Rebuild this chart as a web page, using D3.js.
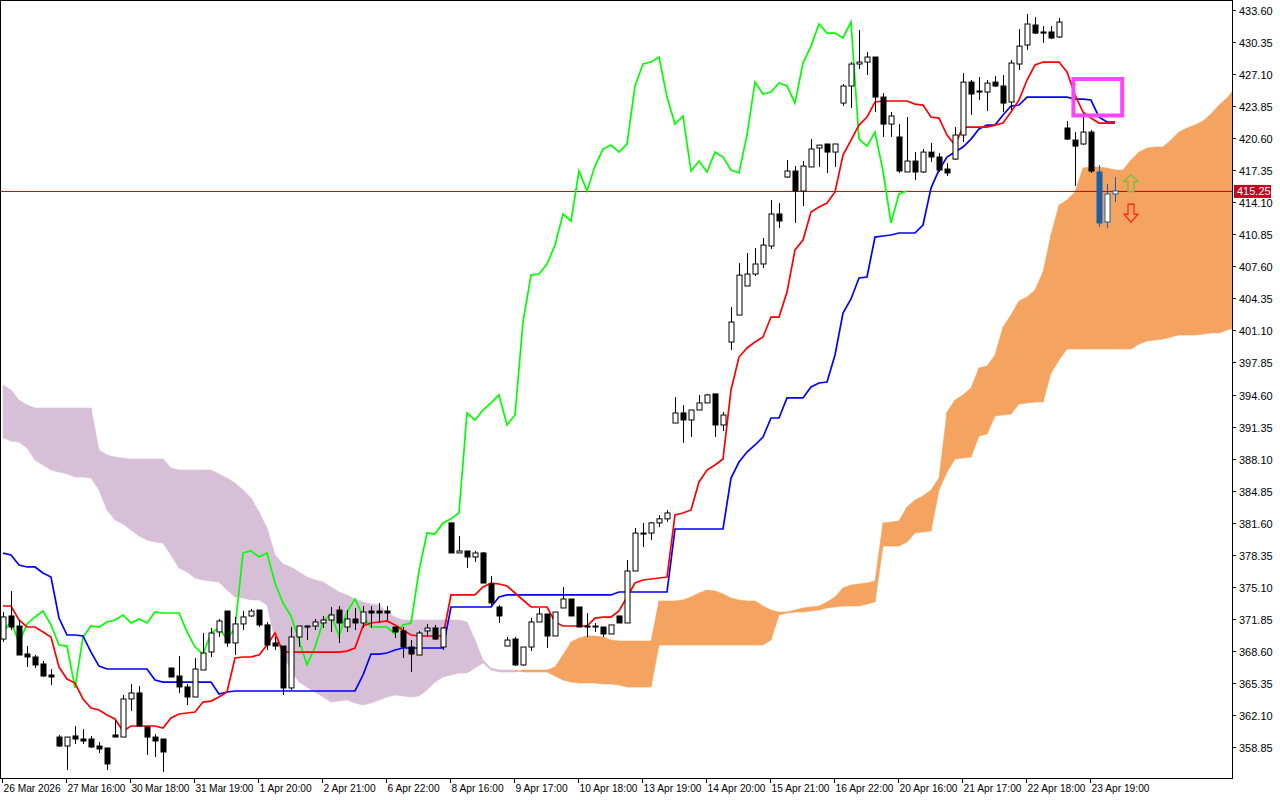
<!DOCTYPE html>
<html>
<head>
<meta charset="utf-8">
<script src="https://cdnjs.cloudflare.com/ajax/libs/d3/7.8.5/d3.min.js"></script>
<style>
body { margin: 0; background: #fff; }
text { font-family: 'Liberation Sans', Arial, sans-serif; font-size: 11px; }
.time text { font-size: 10.2px; }
</style>
</head>
<body>
<svg id="chart"></svg>
<script>
let opens = [369.80,372.14,371.12,368.28,367.98,367.27,366.15,359.86,358.95,359.97,359.66,359.66,358.95,358.75,360.07,359.86,363.72,364.33,360.88,359.86,359.66,366.86,366.05,364.94,363.92,366.66,368.49,370.52,372.64,369.40,371.33,372.14,372.74,371.23,369.40,369.09,364.84,370.01,371.12,371.12,371.43,371.73,372.74,371.02,371.83,371.43,372.64,372.64,372.64,371.02,370.62,368.99,368.18,370.62,370.92,368.99,381.58,378.53,378.73,378.12,378.53,375.38,373.05,369.09,369.80,367.17,368.99,371.53,372.34,370.11,372.95,373.86,373.05,371.12,371.12,371.02,370.31,372.14,371.43,376.70,380.55,380.55,381.58,381.99,391.71,392.73,392.02,393.03,393.75,394.66,391.51,399.92,402.66,405.61,406.82,407.84,409.66,412.91,416.66,417.27,415.24,417.68,419.60,420.01,419.19,424.16,425.89,428.12,428.32,428.83,424.77,422.03,420.72,417.17,418.28,417.17,419.19,418.69,417.47,418.48,420.92,426.29,425.38,425.28,426.29,425.89,424.27,428.12,430.05,432.08,431.37,431.37,430.86,421.63,420.41,420.01,421.22,417.17,412.10,414.94]
let highs = [372.55,374.67,371.73,369.09,368.18,367.57,366.76,360.07,359.86,360.98,360.67,359.97,359.36,358.75,361.59,364.12,365.24,365.04,360.88,360.17,359.66,366.86,368.08,365.24,367.88,370.41,370.92,371.83,372.64,372.04,372.64,372.85,372.74,371.53,370.01,369.09,371.02,371.12,371.23,371.83,372.14,373.05,373.15,372.74,372.95,373.15,373.15,373.46,373.15,371.02,371.02,369.70,370.62,371.33,371.23,371.02,381.58,380.25,378.73,378.73,378.63,376.20,373.25,370.01,370.01,368.99,371.94,372.95,372.34,372.54,375.08,373.86,373.05,372.44,371.43,371.02,371.23,372.14,377.81,381.06,381.58,381.68,382.38,382.89,394.35,393.54,393.03,394.56,394.66,394.66,392.83,403.48,407.93,408.95,409.46,410.47,414.33,414.02,418.38,417.77,418.28,420.51,419.90,420.01,420.01,426.09,428.32,431.57,429.34,428.83,425.18,423.25,422.03,422.74,419.19,419.50,420.11,419.09,418.08,421.73,427.21,426.50,426.80,426.50,426.90,427.00,428.53,431.67,433.19,432.89,431.97,431.97,432.79,422.34,421.22,423.15,421.43,417.88,415.95,416.66]
let lows = [369.50,370.72,368.18,366.97,366.86,365.95,365.14,358.85,356.52,359.15,359.15,358.75,358.24,356.52,359.86,359.86,362.50,360.98,358.04,357.83,356.32,365.95,364.33,363.11,363.92,366.66,367.98,370.01,369.00,368.18,370.72,372.04,371.02,368.69,368.69,364.12,364.63,369.00,369.70,370.72,370.92,370.52,369.40,370.52,370.72,370.92,370.92,371.43,371.73,369.90,367.88,366.46,368.18,370.01,369.70,368.69,378.53,378.53,377.00,377.61,375.48,373.15,371.43,369.09,367.07,367.07,368.59,371.53,368.89,370.11,372.95,372.14,371.02,370.01,370.52,370.01,370.31,371.43,371.43,376.70,379.13,379.84,381.17,381.68,391.71,389.68,390.30,393.03,393.75,390.30,390.90,399.11,402.66,405.61,406.62,407.43,409.36,411.49,416.56,412.00,413.72,417.68,417.68,417.07,417.68,423.86,423.66,427.61,427.00,423.25,420.72,420.72,417.07,417.17,416.36,417.07,418.18,417.17,416.76,418.38,420.21,422.95,424.47,423.35,425.79,423.25,423.45,427.51,429.54,431.16,430.25,430.65,430.76,420.41,415.75,419.90,417.07,411.59,411.49,414.12]
let closes = [372.04,371.02,368.18,367.98,367.17,366.05,365.95,358.95,359.86,359.66,359.46,358.85,358.65,357.13,359.86,363.72,364.33,360.98,359.86,359.46,358.34,365.95,364.94,363.92,366.76,368.38,370.41,371.63,369.40,371.33,372.04,372.64,371.23,369.19,369.09,364.84,370.01,371.12,371.02,371.53,371.73,372.24,371.43,371.83,371.43,372.54,372.44,372.44,372.44,370.52,368.99,368.28,370.41,370.92,369.80,370.92,378.53,378.73,378.12,378.53,375.48,373.46,372.14,369.70,367.17,368.99,371.53,372.34,370.11,372.54,373.86,372.14,371.02,371.02,371.02,370.31,371.23,371.43,376.70,380.55,380.45,381.58,381.99,382.59,392.73,392.02,393.03,393.75,394.56,391.51,392.52,401.95,406.71,406.82,407.84,409.76,412.91,412.20,417.27,415.24,417.77,419.50,419.90,419.19,420.01,425.89,428.12,428.32,428.83,424.77,422.03,422.85,417.27,418.28,417.17,419.19,418.69,417.37,417.07,420.92,426.29,425.08,425.28,426.19,425.89,424.16,428.22,429.94,432.18,431.26,431.26,430.76,432.38,420.51,419.80,421.22,417.27,412.00,414.94,415.25]

let tenkan = [373.15,373.15,371.73,371.02,371.02,370.51,370.01,366.96,365.75,365.34,363.72,362.80,362.60,362.09,361.69,360.47,360.98,360.98,360.98,360.98,360.78,361.79,362.20,362.30,362.40,363.41,363.51,363.92,364.43,367.88,367.98,367.98,368.18,369.19,370.41,368.48,368.48,368.48,368.48,368.48,368.48,368.48,368.48,368.58,368.89,371.12,371.43,371.53,371.63,371.22,370.72,370.21,370.11,370.11,370.11,370.11,374.27,374.27,374.27,374.27,375.08,375.48,375.38,375.18,374.47,373.76,373.05,373.05,373.05,371.53,371.12,371.12,371.12,371.12,371.93,372.03,372.03,372.64,374.06,375.48,375.79,375.89,375.99,376.09,382.38,382.58,382.89,385.73,386.94,387.45,388.06,395.06,398.40,399.32,399.93,400.43,402.46,402.46,404.99,409.26,410.27,413.11,413.62,414.02,415.14,418.89,420.41,421.93,422.74,424.27,424.37,424.37,424.37,424.37,424.06,423.96,422.74,422.64,420.92,419.90,421.73,421.73,421.73,421.73,421.93,422.13,423.25,424.47,426.50,428.02,428.32,428.32,428.32,427.31,424.98,423.25,422.64,422.13,422.13,422.13]
let kijun = [378.52,378.32,377.31,377.11,377.11,376.50,376.09,371.93,370.21,370.21,370.11,368.48,367.06,366.76,366.76,366.76,366.76,366.76,366.76,365.64,365.44,365.44,365.44,365.44,365.44,365.44,365.44,364.22,364.43,364.53,364.53,364.53,364.53,364.53,364.53,364.53,364.53,364.53,364.53,364.53,364.53,364.53,364.53,364.53,364.53,366.15,368.28,368.28,368.38,368.69,368.89,368.89,368.89,368.89,368.89,368.89,373.05,373.05,373.05,373.05,373.05,373.05,374.06,374.27,374.27,374.27,374.27,374.27,374.27,374.27,374.27,374.27,374.27,374.27,374.27,374.27,374.27,374.57,374.57,374.57,374.57,374.57,374.57,374.57,380.96,380.96,380.96,380.96,380.96,380.96,380.96,386.13,387.75,388.77,389.48,390.29,392.22,392.22,394.25,394.25,394.25,395.36,395.77,395.87,398.61,402.87,404.29,406.42,406.52,410.57,410.68,410.78,410.98,410.98,410.98,411.79,415.54,417.37,418.69,419.19,419.70,420.51,421.53,421.93,421.93,422.95,423.86,423.96,424.77,424.77,424.77,424.77,424.77,424.77,424.57,424.57,424.47,422.74,422.24,422.24]
let spanA = [390.19,389.88,389.78,389.17,387.96,387.45,386.94,386.74,386.54,386.23,386.23,386.13,384.91,382.89,381.87,381.47,380.86,380.25,379.84,379.64,379.54,378.32,377.00,376.60,375.99,375.79,375.68,375.58,374.77,374.06,373.96,373.76,373.76,373.25,369.70,368.18,366.66,365.44,364.93,364.43,363.92,363.41,363.51,363.62,363.31,363.11,363.31,363.62,363.92,364.12,364.02,363.92,364.02,364.63,365.44,365.95,366.15,366.35,366.35,366.86,367.37,366.66,366.46,366.46,366.46,366.66,366.66,366.66,366.66,366.96,368.18,369.50,369.90,370.11,370.11,370.01,369.70,369.60,369.60,369.60,369.60,369.60,373.66,373.66,373.66,373.76,374.06,374.47,374.77,374.67,374.37,373.96,373.76,373.66,373.66,373.15,372.74,372.54,372.54,372.74,372.95,373.05,373.15,373.56,374.06,374.98,375.28,375.38,375.48,375.68,381.57,381.67,381.77,383.19,383.90,384.31,384.91,386.13,392.82,394.04,394.55,395.26,397.29,397.49,398.61,401.45,402.66,404.08,404.49,405.20,407.02,410.78,413.82,414.33,415.14,417.57,417.67,417.67,417.57,417.37,417.37,418.38,419.19,419.60,419.70,419.70,420.41,421.22,421.63,421.93,422.34,423.05,423.96,424.67,425.69]
let spanB = [395.56,395.06,394.04,393.53,393.23,393.23,393.23,393.23,393.23,393.23,393.23,393.23,388.97,388.46,388.26,388.16,388.06,388.06,388.06,388.06,388.06,387.15,386.94,386.94,386.94,386.94,386.94,386.54,386.13,385.62,384.91,384.10,382.68,381.06,378.32,377.41,377.10,376.60,376.09,375.79,375.58,375.08,374.57,374.27,373.86,373.56,373.35,373.25,372.54,372.03,371.73,371.73,371.73,371.73,371.73,371.73,371.73,371.73,371.53,369.70,367.67,366.86,366.66,366.66,366.66,366.46,366.46,366.46,366.46,366.05,365.64,365.44,365.34,365.34,365.34,365.24,365.24,365.14,364.93,364.93,364.93,364.93,369.19,369.19,369.19,369.19,369.19,369.19,369.19,369.19,369.19,369.19,369.19,369.19,369.19,369.19,369.70,372.24,372.44,372.54,372.54,372.64,372.74,372.95,373.05,373.15,373.15,373.15,373.35,373.56,379.23,379.23,379.23,379.64,380.55,380.65,380.75,384.91,386.74,388.06,388.16,388.26,390.39,390.59,392.42,392.52,392.62,393.64,393.74,393.84,393.84,396.78,398.10,399.21,399.21,399.21,399.21,399.21,399.21,399.21,399.21,399.21,399.72,400.03,400.13,400.23,400.43,400.63,400.63,400.63,400.73,400.84,400.84,401.14,401.34]

let priceTicks = [433.60,430.35,427.10,423.85,420.60,417.35,414.10,410.85,407.60,404.35,401.10,397.85,394.60,391.35,388.10,384.85,381.60,378.35,375.10,371.85,368.60,365.35,362.10,358.85]
let timeLabels = ['26 Mar 2026','27 Mar 16:00','30 Mar 18:00','31 Mar 19:00','1 Apr 20:00','2 Apr 21:00','6 Apr 22:00','8 Apr 16:00','9 Apr 17:00','10 Apr 18:00','13 Apr 19:00','14 Apr 20:00','15 Apr 21:00','16 Apr 22:00','20 Apr 16:00','21 Apr 17:00','22 Apr 18:00','23 Apr 19:00']
let lastPrice = 415.25

let width = 1280
let height = 800
let plotRight = 1232
let plotBottom = 778

let svg = d3.select('#chart').attr('width', width).attr('height', height)

let xScale = d3.scaleLinear().domain([0, 1]).range([3, 11])
let yScale = d3.scaleLinear().domain([358.85, 433.60]).range([747, 10])

svg.append('clipPath').attr('id', 'plot')
    .append('rect').attr('x', 1).attr('y', 1).attr('width', plotRight - 1).attr('height', plotBottom - 1)

let plot = svg.append('g').attr('clip-path', 'url(#plot)')

// cloud: one small area per bar segment, coloured by which span is on top
let cloudArea = d3.area()
    .x(d => xScale(d.i))
    .y0(d => yScale(d.a))
    .y1(d => yScale(d.b))

for (let i = 0; i < spanA.length - 1; i++) {
    let seg = [{ i: i, a: spanA[i], b: spanB[i] }, { i: i + 1, a: spanA[i + 1], b: spanB[i + 1] }]
    let up = (spanA[i] + spanA[i + 1]) >= (spanB[i] + spanB[i + 1])
    plot.append('path')
        .attr('d', cloudArea(seg))
        .attr('fill', up ? '#f4a460' : '#d8bfd8')
        .attr('stroke', up ? '#f4a460' : '#d8bfd8')
        .attr('stroke-width', 0.6)
}

// current price line
plot.append('line')
    .attr('x1', 0).attr('x2', plotRight)
    .attr('y1', yScale(lastPrice) + 0.5).attr('y2', yScale(lastPrice) + 0.5)
    .attr('stroke', '#c00000').attr('stroke-width', 1)

let drawLine = (values, color) => {
    let line = d3.line()
        .x((d, i) => xScale(i))
        .y(d => yScale(d))
    plot.append('path')
        .attr('d', line(values))
        .attr('fill', 'none')
        .attr('stroke', color)
        .attr('stroke-width', 1.7)
}

drawLine(closes.slice(26), '#00ff00')
drawLine(kijun, '#0000ff')
drawLine(tenkan, '#ff0000')

// candles
let candles = plot.selectAll('.candle')
    .data(closes.map((c, i) => ({ i: i, o: opens[i], h: highs[i], l: lows[i], c: c })))
    .enter()
    .append('g')

let candleColor = (d) => d.i >= 137 ? '#1a5fa8' : '#000'

candles.append('line')
    .attr('x1', d => Math.round(xScale(d.i)) + 0.5)
    .attr('x2', d => Math.round(xScale(d.i)) + 0.5)
    .attr('y1', d => yScale(d.h))
    .attr('y2', d => yScale(d.l))
    .attr('stroke', candleColor)
    .attr('stroke-width', 1)

candles.append('rect')
    .attr('x', d => Math.round(xScale(d.i)) - 2)
    .attr('width', 5)
    .attr('y', d => yScale(Math.max(d.o, d.c)))
    .attr('height', d => Math.max(1, Math.abs(yScale(d.o) - yScale(d.c))))
    .attr('fill', d => d.c >= d.o ? '#fff' : candleColor(d))
    .attr('stroke', candleColor)
    .attr('stroke-width', 1)

// signal box and arrows
svg.append('rect')
    .attr('x', xScale(133.8)).attr('y', yScale(426.6))
    .attr('width', xScale(139.9) - xScale(133.8))
    .attr('height', yScale(422.9) - yScale(426.6))
    .attr('fill', 'none').attr('stroke', '#ff44ff').attr('stroke-width', 4)

let ax = xScale(141)
let upTop = yScale(416.9)
let downTop = yScale(413.9)
svg.append('path')
    .attr('d', `M${ax},${upTop} l7,7 h-4 v10 h-6 v-10 h-4 z`)
    .attr('fill', 'none').attr('stroke', '#6fc040').attr('stroke-width', 1.3)
svg.append('path')
    .attr('d', `M${ax - 3},${downTop} h6 v10 h4 l-7,8 l-7,-8 h4 z`)
    .attr('fill', 'none').attr('stroke', '#ff2a10').attr('stroke-width', 1.3)

// frame
svg.append('rect')
    .attr('x', 0.5).attr('y', 0.5)
    .attr('width', plotRight).attr('height', plotBottom)
    .attr('fill', 'none').attr('stroke', '#000').attr('stroke-width', 1)

// right price axis
let yAxis = svg.append('g')
priceTicks.forEach(p => {
    let y = Math.round(yScale(p)) + 0.5
    yAxis.append('line').attr('x1', plotRight).attr('x2', plotRight + 4).attr('y1', y).attr('y2', y).attr('stroke', '#000')
    yAxis.append('text').attr('x', plotRight + 7).attr('y', y + 4).text(p.toFixed(2))
})

svg.append('rect')
    .attr('x', plotRight + 2).attr('y', yScale(lastPrice) - 6)
    .attr('width', 37).attr('height', 13)
    .attr('fill', '#c8001e')
svg.append('text')
    .attr('x', plotRight + 5).attr('y', yScale(lastPrice) + 4)
    .attr('fill', '#fff')
    .text(lastPrice.toFixed(2))

// bottom time axis
let xAxis = svg.append('g').attr('class', 'time')
timeLabels.forEach((t, k) => {
    let x = Math.round(xScale(k * 8)) - 0.5
    xAxis.append('line').attr('x1', x).attr('x2', x).attr('y1', plotBottom).attr('y2', plotBottom + 5).attr('stroke', '#000')
    xAxis.append('text').attr('x', x + 1).attr('y', plotBottom + 14).attr('textLength', t.length > 11 ? 58 : null).text(t)
})
</script>
</body>
</html>
